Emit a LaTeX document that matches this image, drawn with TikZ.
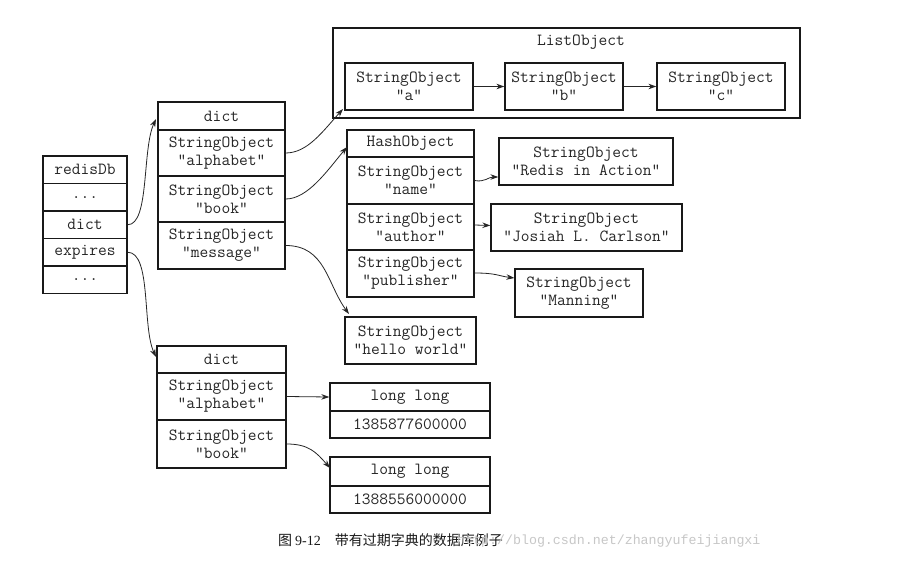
\documentclass[tikz,border=0pt]{standalone}
\usepackage{fontspec}
\newfontfamily\cjkfont{Noto Sans CJK SC}
\newfontfamily\capserif{Liberation Serif}
\newfontfamily\wmfont{Liberation Mono}
\usetikzlibrary{arrows.meta}
\begin{document}
\begin{tikzpicture}[x=1pt,y=-1pt,
  cell/.style={draw=black!90, line width=1.3pt, inner sep=0pt, align=center, text=black!85,
    font=\ttfamily\fontsize{17}{18}\selectfont},
  sz/.style 2 args={minimum width=#1pt, minimum height=#2pt},
  lbl/.style={inner sep=0pt, text=black!85, font=\ttfamily\fontsize{17}{18}\selectfont},
  arr/.style={-{Stealth[length=8pt,width=5.5pt]}, line width=0.8pt, draw=black!85}]
\useasboundingbox (0,0) rectangle (898,568);
\fill[white] (0,0) rectangle (898,568);

% redisDb
\node[cell, sz={84}{27.5}] (rdb) at (85,169.75) {redisDb};
\node[cell, sz={84}{27.5}] (rd1) at (85,197.25) {...};
\node[cell, sz={84}{27.5}] (rdict) at (85,224.75) {dict};
\node[cell, sz={84}{27.5}] (rexp) at (85,252.25) {expires};
\node[cell, sz={84}{27.5}] (rd2) at (85,279.75) {...};

% dict 1
\node[cell, sz={127}{28}] (d1h) at (221.5,116) {dict};
\node[cell, sz={127}{46}] (d1a) at (221.5,153) {StringObject\\"alphabet"};
\node[cell, sz={127}{46}] (d1b) at (221.5,199) {StringObject\\"book"};
\node[cell, sz={127}{47}] (d1m) at (221.5,245.5) {StringObject\\"message"};

% ListObject
\node[cell, sz={467}{90}] (lo) at (566.5,73) {};
\node[lbl] (lot) at (581,42) {ListObject};
\node[cell, sz={128}{47}] (la) at (409,86.5) {StringObject\\"a"};
\node[cell, sz={118}{47}] (lb) at (564,86.5) {StringObject\\"b"};
\node[cell, sz={128}{47}] (lc) at (721,86.5) {StringObject\\"c"};

% HashObject
\node[cell, sz={127}{27}] (hh) at (410.5,143.5) {HashObject};
\node[cell, sz={127}{47}] (hn) at (410.5,180.5) {StringObject\\"name"};
\node[cell, sz={127}{46}] (ha) at (410.5,227) {StringObject\\"author"};
\node[cell, sz={127}{47}] (hp) at (410.5,273.5) {StringObject\\"publisher"};

\node[cell, sz={174}{47}] (sr) at (586,161.5) {StringObject\\"Redis in Action"};
\node[cell, sz={191}{47}] (sj) at (586.5,227.5) {StringObject\\"Josiah L. Carlson"};
\node[cell, sz={128}{48}] (sm) at (579,293) {StringObject\\"Manning"};
\node[cell, sz={131}{47}] (sh) at (410.5,340.5) {StringObject\\"hello world"};

% dict 2
\node[cell, sz={129}{27}] (d2h) at (221.5,359.5) {dict};
\node[cell, sz={129}{47}] (d2a) at (221.5,396.5) {StringObject\\"alphabet"};
\node[cell, sz={129}{48}] (d2b) at (221.5,444) {StringObject\\"book"};

\node[cell, sz={160}{28}] (l1h) at (410,397) {long long};
\node[cell, sz={160}{27}] (l1v) at (410,424.5) {1385877600000};
\node[cell, sz={160}{29}] (l2h) at (410,471.5) {long long};
\node[cell, sz={160}{27}] (l2v) at (410,499.5) {1388556000000};

% connector end points
\coordinate (t1) at (156,119);
\coordinate (t2) at (156,357);
\coordinate (t3) at (343,109);
\coordinate (t4) at (347,147);
\coordinate (t5) at (349,314);
\coordinate (t6) at (330,468);

% connectors
\draw[arr] (rdict.east) .. controls +(22,0) and +(-14,30) .. (t1);
\draw[arr] (rexp.east) .. controls +(24,0) and +(-14,-30) .. (t2);
\draw[arr] (d1a.east) .. controls +(22,0) and +(-20,22) .. (t3);
\draw[arr] (d1b.east) .. controls +(22,0) and +(-20,24) .. (t4);
\draw[arr] (d1m.east) .. controls +(40,0) and +(-22,-30) .. (t5);
\draw[arr] (la.east) -- (lb.west);
\draw[arr] (lb.east) -- (lc.west);
\draw[arr] (hn.east) .. controls +(10,2) and +(-10,0) .. ([yshift=-15.5pt]sr.west);
\draw[arr] ([yshift=2pt]ha.east) -- ([yshift=2pt]sj.west);
\draw[arr] ([yshift=0.5pt]hp.east) .. controls +(22,0) and +(-16,-2) .. ([yshift=15pt]sm.west);
\draw[arr] (d2a.east) -- (l1h.west);
\draw[arr] (d2b.east) .. controls +(22,0) and +(-14,-16) .. (t6);

% caption
\node[inner sep=0pt, anchor=west, text=black!90, font=\fontsize{14}{18}\selectfont] (cap) at (278,540) {\cjkfont 图\hspace{3pt}\capserif 9-12\hspace{14pt}\cjkfont 带有过期字典的数据库例子};
\node[inner sep=0pt, anchor=west, text=black!22, font=\wmfont\fontsize{13.3}{16}\selectfont] (wm) at (457,541) {http://blog.csdn.net/zhangyufeijiangxi};
\end{tikzpicture}
\end{document}
